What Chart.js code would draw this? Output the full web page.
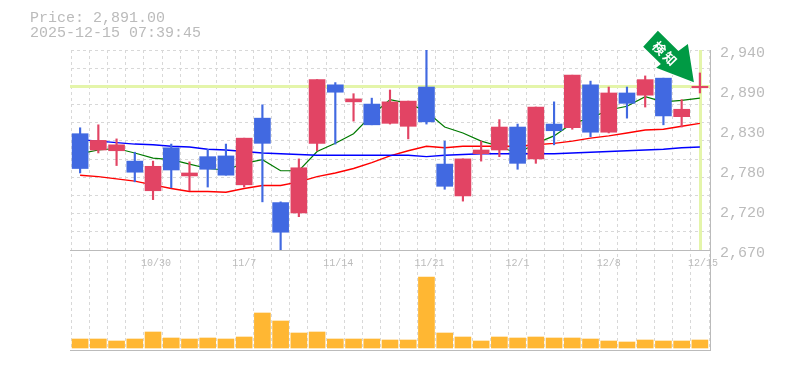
<!DOCTYPE html>
<html lang="ja">
<head>
<meta charset="utf-8">
<title>Price chart</title>
<script src="https://cdn.jsdelivr.net/npm/chart.js@4"></script>
<style>
    html, body { margin: 0; padding: 0; background: #fff; }
    #wrap { position: relative; width: 785px; height: 370px; }
    #price-info { position: absolute; left: 30px; top: 11px; font: 15px/15px "Liberation Mono", monospace; color: #bbb; white-space: pre; }
</style>
</head>
<body>
<div id="wrap">
    <div id="price-info"></div>
    <canvas id="chart" width="785" height="370"></canvas>
</div>
<script>
const priceText = 'Price: 2,891.00';
const timeText = '2025-12-15 07:39:45';
const badgeText = '検知';

const dates = ['10/24', '10/27', '10/28', '10/29', '10/30', '10/31', '11/4', '11/5', '11/6', '11/7', '11/10', '11/11', '11/12', '11/13', '11/14', '11/17', '11/18', '11/19', '11/20', '11/21', '11/25', '11/26', '11/27', '11/28', '12/1', '12/2', '12/3', '12/4', '12/5', '12/8', '12/9', '12/10', '12/11', '12/12', '12/15'];
const shownDates = ['10/30', '11/7', '11/14', '11/21', '12/1', '12/8', '12/15'];

const opens = [2827, 2805, 2804, 2790, 2750, 2808, 2770, 2796, 2797, 2758, 2848, 2734, 2720, 2814, 2893, 2870, 2867, 2841, 2837, 2890, 2786, 2743, 2800, 2805, 2836, 2793, 2840, 2835, 2893, 2829, 2882, 2879, 2902, 2850, 2889];
const closes = [2780, 2818, 2812, 2775, 2783, 2778, 2774, 2779, 2771, 2821, 2814, 2694, 2781, 2900, 2883, 2874, 2839, 2870, 2871, 2843, 2756, 2793, 2805, 2836, 2787, 2863, 2831, 2906, 2829, 2882, 2868, 2900, 2851, 2860, 2891];
const highs = [2835, 2839, 2820, 2802, 2790, 2813, 2789, 2806, 2813, 2821, 2866, 2735, 2793, 2900, 2896, 2881, 2875, 2886, 2871, 2940, 2817, 2793, 2817, 2846, 2840, 2863, 2870, 2906, 2898, 2890, 2890, 2905, 2902, 2873, 2909];
const lows = [2774, 2801, 2784, 2762, 2738, 2754, 2750, 2755, 2771, 2755, 2735, 2670, 2715, 2804, 2813, 2844, 2839, 2840, 2820, 2840, 2752, 2736, 2790, 2796, 2779, 2787, 2812, 2833, 2823, 2828, 2848, 2863, 2839, 2836, 2882];

const maShort = [2800, 2805, 2807, 2801, 2794, 2792, 2786, 2780, 2778, 2787, 2792, 2777, 2777, 2803, 2814, 2827, 2852, 2873, 2868, 2857, 2836, 2828, 2817, 2810, 2800, 2814, 2824, 2841, 2848, 2859, 2864, 2877, 2870, 2872, 2875];
const maMiddle = [2771, 2769, 2766, 2763, 2758, 2753, 2749, 2749, 2748, 2753, 2757, 2757, 2762, 2769, 2774, 2780, 2788, 2797, 2804, 2810, 2808, 2810, 2810, 2810, 2810, 2812, 2814, 2817, 2821, 2824, 2828, 2832, 2833, 2837, 2841];
const maLong = [2819, 2817, 2815, 2813, 2812, 2810, 2809, 2806, 2805, 2803, 2801, 2800, 2799, 2798, 2798, 2798, 2798, 2798, 2798, 2796, 2798, 2799, 2800, 2800, 2800, 2800, 2800, 2801, 2802, 2803, 2804, 2805, 2806, 2808, 2809];

const volumes = [45, 45, 35, 45, 80, 50, 45, 50, 45, 55, 175, 135, 75, 80, 45, 45, 45, 40, 40, 355, 75, 55, 35, 55, 50, 55, 50, 50, 45, 35, 30, 40, 35, 35, 40];

const priceTicks = [2940, 2886, 2832, 2778, 2724, 2670];
const priceTickLabels = ['2,940', '2,890', '2,830', '2,780', '2,720', '2,670'];
const lastPrice = 2891;

const priceMin = 2670;
const priceMax = 2940;
const gridRows = 11;

const RED = '#e24464';
const BLUE = '#4169e1';
const GREY = '#bbbbbb';
const GRID = '#d8d8d8';
const BAND = '#e4f5aa';

// dashed rows do not sit on the labelled ticks, so both go on the axis
const gridTicks = [];
for (let i = 0; i <= gridRows; i++) {
    gridTicks.push(priceMax - (priceMax - priceMin) * i / gridRows);
}

const candleColors = opens.map((open, i) => closes[i] >= open ? RED : BLUE);

const markers = {
    id: 'markers',
    beforeDatasetsDraw(chart) {
        const {ctx, chartArea, scales} = chart;
        const y = Math.round(scales.y.getPixelForValue(lastPrice));
        const x = Math.round(scales.x.getPixelForValue(dates.length - 1));
        const left = chartArea.left - 1;
        const right = chartArea.right + 1;
        ctx.save();
        ctx.fillStyle = BAND;
        ctx.fillRect(left, y - 1, right - left, 3);
        ctx.fillRect(x - 1, scales.y.top, 3, scales.y.height);
        // pane frame
        ctx.strokeStyle = GREY;
        ctx.lineWidth = 1;
        ctx.beginPath();
        ctx.moveTo(left, scales.y.bottom + 0.5);
        ctx.lineTo(right, scales.y.bottom + 0.5);
        ctx.moveTo(left, chartArea.bottom + 0.5);
        ctx.lineTo(right, chartArea.bottom + 0.5);
        ctx.moveTo(right + 0.5, chartArea.top);
        ctx.lineTo(right + 0.5, chartArea.bottom + 1);
        ctx.stroke();
        ctx.restore();
    },
    afterDatasetsDraw(chart) {
        const {ctx, scales} = chart;
        const tipX = scales.x.getPixelForValue(dates.length - 1) - 6;
        const tipY = scales.y.getPixelForValue(lastPrice) - 4;
        const shape = [[-36, -51.6], [-15.5, -31.3], [-6, -38.3], [0, 0], [-37.7, -14.6], [-33, -18.3], [-50.7, -35.6]];
        ctx.save();
        ctx.beginPath();
        shape.forEach(([dx, dy]) => ctx.lineTo(tipX + dx, tipY + dy));
        ctx.closePath();
        ctx.lineJoin = 'round';
        ctx.lineWidth = 2;
        ctx.strokeStyle = '#ffffff';
        ctx.stroke();
        ctx.fillStyle = '#009a44';
        ctx.fill();
        ctx.translate(tipX - 28.5, tipY - 28.3);
        ctx.rotate(Math.PI / 4);
        ctx.fillStyle = '#ffffff';
        ctx.font = 'bold 13px "Noto Sans CJK JP"';
        ctx.textAlign = 'center';
        ctx.textBaseline = 'middle';
        ctx.letterSpacing = '2px';
        ctx.fillText(badgeText, 0, 0);
        ctx.restore();
    }
};

document.getElementById('price-info').textContent = priceText + '\n' + timeText;

new Chart(document.getElementById('chart').getContext('2d'), {
    data: {
        labels: dates,
        datasets: [
            {type: 'bar', data: opens.map((open, i) => [open, closes[i]]), backgroundColor: candleColors, barThickness: 16, grouped: false, yAxisID: 'y', order: 1},
            {type: 'bar', data: lows.map((low, i) => [low, highs[i]]), backgroundColor: candleColors, barThickness: 1.5, grouped: false, yAxisID: 'y', order: 2},
            {type: 'line', data: maLong, borderColor: '#0000ff', borderWidth: 1.4, pointRadius: 0, yAxisID: 'y', order: 3},
            {type: 'line', data: maMiddle, borderColor: '#ff0000', borderWidth: 1.4, pointRadius: 0, yAxisID: 'y', order: 3},
            {type: 'line', data: maShort, borderColor: '#007a00', borderWidth: 1.2, pointRadius: 0, yAxisID: 'y', order: 3},
            {type: 'bar', data: volumes, backgroundColor: '#ffb733', barThickness: 16, grouped: false, yAxisID: 'volume', order: 4}
        ]
    },
    options: {
        responsive: false,
        animation: false,
        layout: {padding: {left: 71, top: 50, bottom: 20, right: 0}},
        plugins: {legend: {display: false}, tooltip: {enabled: false}},
        scales: {
            x: {
                type: 'category',
                position: {y: priceMin},
                afterFit(scale) { scale.height = 0; },
                grid: {offset: true, color: GRID, drawTicks: false},
                border: {display: false, dash: [3, 3]},
                ticks: {
                    autoSkip: false,
                    maxRotation: 0,
                    align: 'start',
                    labelOffset: -12,
                    padding: 7,
                    color: GREY,
                    font: {family: '"Liberation Mono", monospace', size: 10},
                    callback(value) {
                        const label = this.getLabelForValue(value);
                        return shownDates.includes(label) ? label : '';
                    }
                }
            },
            y: {
                position: 'right',
                stack: 'panes',
                stackWeight: 2,
                min: priceMin,
                max: priceMax,
                afterFit(scale) { scale.width = 76; },
                afterBuildTicks(scale) {
                    const values = [...new Set([...gridTicks, ...priceTicks])].sort((a, b) => a - b);
                    scale.ticks = values.map(value => ({value}));
                },
                grid: {
                    drawTicks: false,
                    color: ctx => gridTicks.includes(ctx.tick.value) ? GRID : 'transparent'
                },
                border: {display: false, dash: [3, 3]},
                ticks: {
                    autoSkip: false,
                    labelOffset: 3,
                    padding: 11,
                    color: GREY,
                    font: {family: '"Liberation Mono", monospace', size: 15},
                    callback(value) {
                        const i = priceTicks.indexOf(value);
                        return i === -1 ? '' : priceTickLabels[i];
                    }
                }
            },
            volume: {
                position: 'right',
                stack: 'panes',
                stackWeight: 1,
                min: -10,
                max: 490,
                afterFit(scale) { scale.width = 76; },
                grid: {display: false},
                border: {display: false},
                ticks: {display: false}
            }
        }
    },
    plugins: [markers]
});
</script>
</body>
</html>
